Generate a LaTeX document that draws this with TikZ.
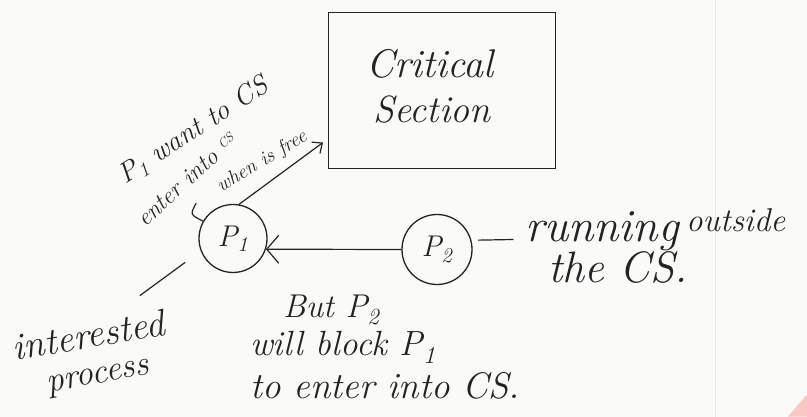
\documentclass[tikz,border=0pt]{standalone}
\usetikzlibrary{arrows.meta}
\definecolor{ink}{RGB}{35,35,35}
\definecolor{paper}{RGB}{250,250,248}
\definecolor{ruleline}{RGB}{232,232,228}
\definecolor{pinkish}{RGB}{250,200,195}
\newcommand\hsz[1]{\fontsize{#1}{#1}\selectfont\itshape}
\begin{document}
\begin{tikzpicture}[x=1pt,y=-1pt,
  hand/.style={text=ink, inner sep=0pt},
  pen/.style={draw=ink, line width=1.2pt, line cap=round},
  proc/.style={circle, draw=ink, line width=1.3pt, minimum size=68pt, inner sep=0pt, text=ink},
  bigbarb/.style={-{Straight Barb[length=12pt,width=28pt,line width=1.2pt]}},
  smallbarb/.style={-{Straight Barb[length=8pt,width=14pt,line width=1.2pt]}},
]
\fill[paper] (0,0) rectangle (807,416);
\draw[ruleline, line width=1pt] (715,0) -- (715,416);
\fill[pinkish] (788,416) -- (807,394) -- (807,416) -- cycle;
\useasboundingbox (0,0) rectangle (807,416);

% critical section box
\node[draw=ink, line width=1.8pt, minimum width=227pt, minimum height=156pt, inner sep=0pt] (cs) at (442,90) {};
\node[hand, anchor=base] (crit) at (430,77) {\hsz{40}Critical};
\node[hand, anchor=base] (sect) at (432,122) {\hsz{38}Section};

% processes
\node[proc] (p1) at (233,238) {\hsz{30}P\textsubscript{1}};
\node[proc, minimum size=70pt] (p2) at (437,249) {\hsz{30}P\textsubscript{2}};

\draw[pen, bigbarb] (p2.west) -- (p1.-18);
\coordinate (csin) at (323,142);
\draw[pen, smallbarb] (p1.80) -- (csin);

% rotated note
\node[hand, anchor=base west, rotate=33] (l1) at (125,184) {\hsz{28}P\textsubscript{1} want to CS};
\node[hand, anchor=base west, rotate=42] (l2) at (145,227) {\hsz{24}enter into \raisebox{6pt}{\hsz{13}CS}};
\node[hand, anchor=base west, rotate=31] (l3) at (221,192) {\hsz{20}when is free};
\coordinate (lead) at (196,203);
\draw[pen] (lead) .. controls (190,214) .. (p1.150);

% P2 note
\coordinate (dashend) at (513,239);
\draw[pen, shorten <=7pt] (p2.15) -- (dashend);
\node[hand, anchor=base west] (run) at (525,241) {\hsz{46}running};
\node[hand, anchor=base west] (out) at (686,231) {\hsz{33}outside};
\node[hand, anchor=base west] (the) at (548,282) {\hsz{44}the CS.};

% interested process
\coordinate (ia) at (140,295);
\coordinate (ib) at (185,262);
\draw[pen] (ia) -- (ib);
\node[hand, anchor=base west, rotate=9.5] (int) at (14,360) {\hsz{38}interested};
\node[hand, anchor=base west, rotate=10.5] (procl) at (48,392) {\hsz{35}process};

% bottom note
\node[hand, anchor=base west] (but) at (283,317) {\hsz{33}But P\textsubscript{2}};
\node[hand, anchor=base west] (will) at (250,355) {\hsz{35}will block P\textsubscript{1}};
\node[hand, anchor=base west] (toent) at (250,398) {\hsz{37}to enter into CS.};
\end{tikzpicture}
\end{document}
